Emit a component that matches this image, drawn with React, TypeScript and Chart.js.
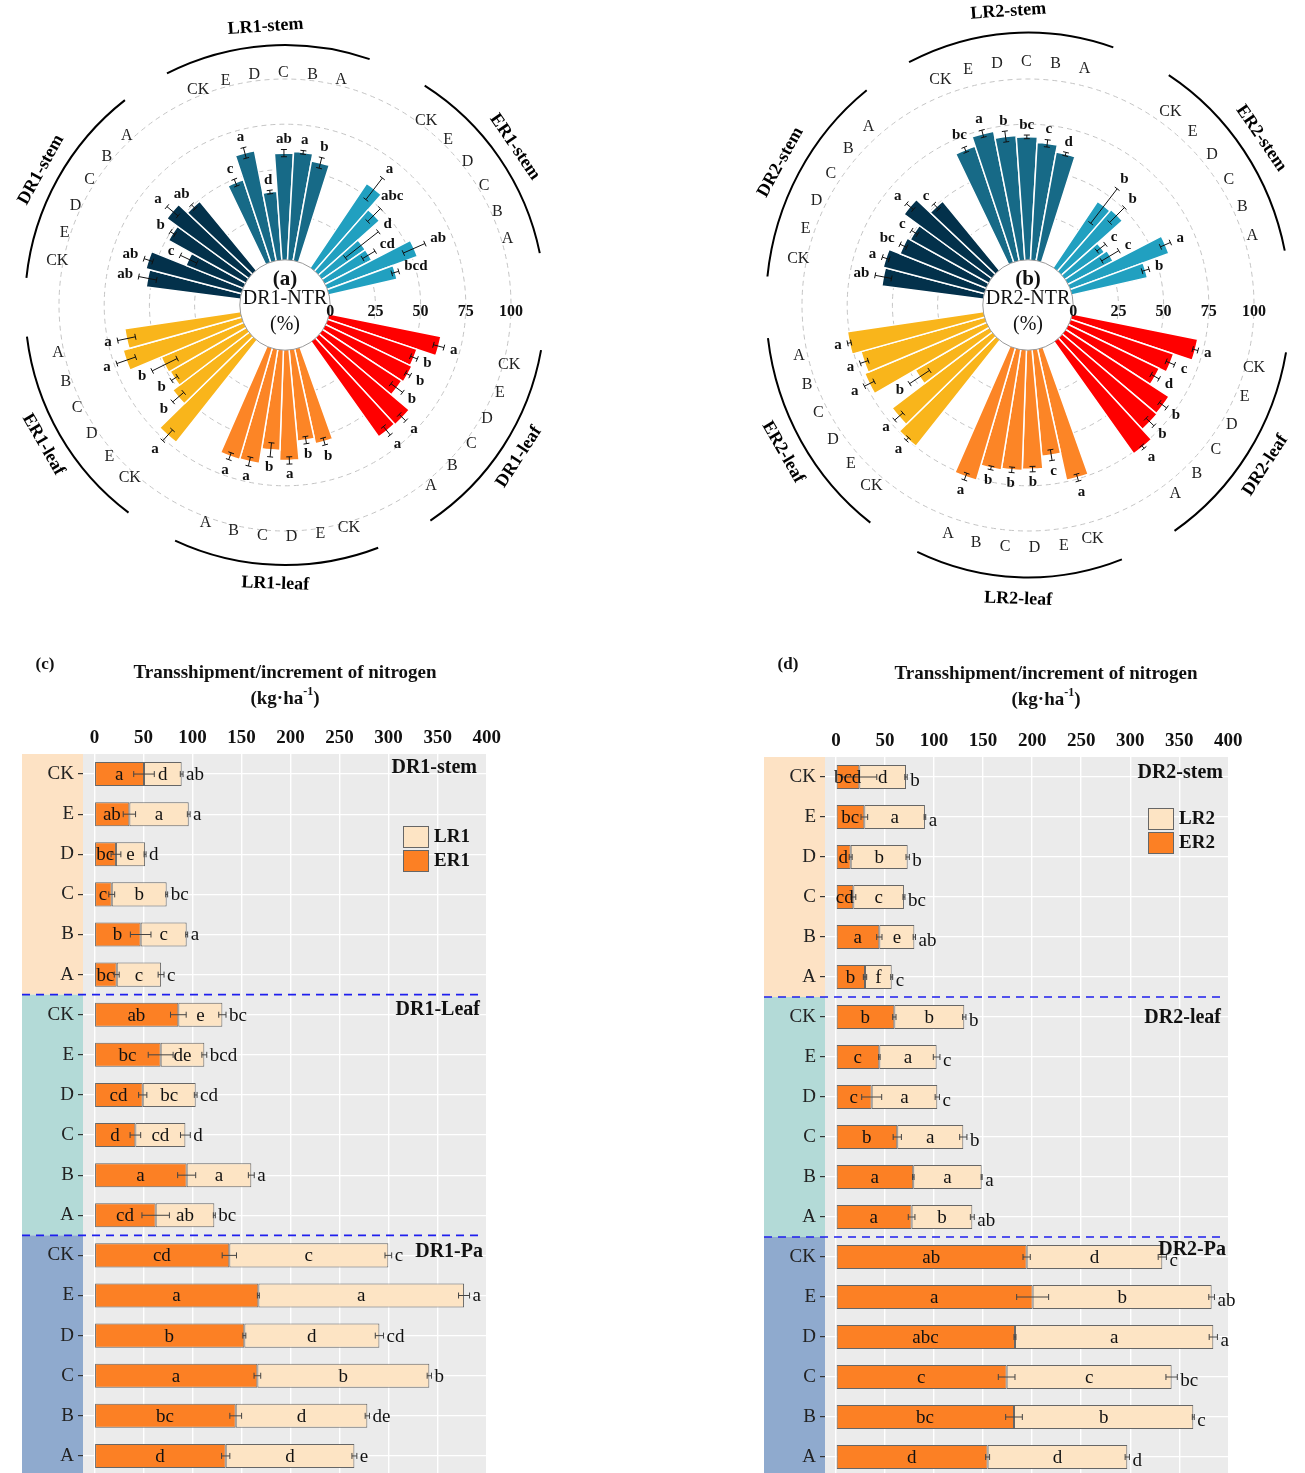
import React, { useEffect, useRef } from "react";
import { Chart, registerables } from "chart.js";

Chart.register(...registerables);

const SERIF = "'Liberation Serif', 'Times New Roman', serif";
const TREATMENTS = ["CK", "E", "D", "C", "B", "A"];

// ---------------- Panel (a): DR1-NTR (%) ----------------
const GROUPS_A = ["LR1-stem", "ER1-stem", "DR1-leaf", "LR1-leaf", "ER1-leaf", "DR1-stem"];
const NTR_A = [
  [48, 62, 38, 59, 60, 56],
  [56, 45, 29, 29, 53, 38.6],
  [63, 52, 53, 52, 65, 64.5],
  [53.5, 50.6, 61, 55.5, 63.8, 64],
  [72, 53, 48.4, 49.3, 68, 64.6],
  [52.4, 54.5, 34, 48.7, 56, 49.3],
];
const NTR_ERR_A = [
  [2, 3, 1, 2, 1, 3],
  [7.5, 5, 11.6, 4, 6.5, 2],
  [3, 2, 1.5, 4, 2.5, 3],
  [2, 2, 2, 3.9, 2.5, 2],
  [4, 4, 2, 7.7, 5.5, 5],
  [5, 2.5, 5, 1.5, 4, 1.5],
];
const NTR_SIG_A = [
  ["c", "a", "d", "ab", "a", "b"],
  ["a", "abc", "d", "cd", "ab", "bcd"],
  ["a", "b", "b", "b", "a", "a"],
  ["b", "b", "a", "b", "a", "a"],
  ["a", "b", "b", "b", "a", "a"],
  ["ab", "ab", "c", "b", "a", "ab"],
];

// ---------------- Panel (b): DR2-NTR (%) ----------------
const GROUPS_B = ["LR2-stem", "ER2-stem", "DR2-leaf", "LR2-leaf", "ER2-leaf", "DR2-stem"];
const NTR_B = [
  [67.6, 73, 69, 68, 65, 61],
  [44, 45, 26.4, 28, 58, 42.8],
  [70.8, 60, 55.7, 68, 68.5, 76],
  [74.3, 59, 65.8, 66.6, 67.4, 76],
  [74.7, 69.4, 47, 73, 70.9, 76],
  [56.5, 57.8, 51.3, 49.5, 60, 49.4],
];
const NTR_ERR_B = [
  [1.5, 2, 3, 1, 2, 1],
  [12, 5.8, 3, 5.5, 3, 2],
  [1.5, 2.5, 2.5, 2.5, 3, 1],
  [2, 3, 1.5, 1.5, 1, 2],
  [1, 3, 6.6, 3, 2.3, 1],
  [4.6, 2, 2, 2, 2.5, 2],
];
const NTR_SIG_B = [
  ["bc", "a", "b", "bc", "c", "d"],
  ["b", "b", "c", "c", "a", "b"],
  ["a", "c", "d", "b", "b", "a"],
  ["a", "c", "b", "b", "b", "a"],
  ["a", "a", "b", "a", "a", "a"],
  ["ab", "a", "bc", "c", "a", "c"],
];

const RING_TICKS = [0, 25, 50, 75, 100];
const GROUP_COLORS = ["#176a87", "#21a0c0", "#ff0000", "#fc8526", "#f9b51b", "#03314b"];

// angular layout (degrees)
const BAR_DEG = 7.2;
const GAP_DEG = [16.3, 24.3, 15.8, 14.8, 15.8, 13.8];
const START_DEG = -25.6;

// ---------------- Panel (c) ----------------
const ROW_GROUPS_C = ["DR1-stem", "DR1-Leaf", "DR1-Pa"];
const ER_C = [50.6, 35.7, 22.0, 17.7, 47.2, 22.8, 85.6, 67.6, 49.3, 41.8, 94.1, 62.5, 137.6, 167.2, 152.9, 166.2, 144.1, 133.9];
const TOTAL_C = [89.0, 96.2, 51.7, 73.7, 94.1, 68.0, 130.5, 112.1, 103.3, 92.8, 160.0, 122.3, 299.7, 376.9, 290.6, 341.5, 278.3, 265.1];
const ER_ERR_C = [10.5, 6.3, 5.0, 3.0, 10.5, 2.5, 8.0, 12.7, 4.2, 5.4, 9.2, 14.0, 7.3, 1.0, 1.5, 3.4, 6.0, 4.2];
const TOTAL_ERR_C = [1.4, 1.4, 1.0, 1.0, 1.0, 3.0, 3.7, 2.5, 1.4, 5.0, 3.0, 1.0, 3.4, 5.6, 4.2, 2.2, 2.2, 2.5];
const SIG_ER_C = ["a", "ab", "bc", "c", "b", "bc", "ab", "bc", "cd", "d", "a", "cd", "cd", "a", "b", "a", "bc", "d"];
const SIG_LR_C = ["d", "a", "e", "b", "c", "c", "e", "de", "bc", "cd", "a", "ab", "c", "a", "d", "b", "d", "d"];
const SIG_TOTAL_C = ["ab", "a", "d", "bc", "a", "c", "bc", "bcd", "cd", "d", "a", "bc", "c", "a", "cd", "b", "de", "e"];
const LEGEND_C = ["LR1", "ER1"];

// ---------------- Panel (d) ----------------
const ROW_GROUPS_D = ["DR2-stem", "DR2-leaf", "DR2-Pa"];
const ER_D = [23.8, 28.9, 15.0, 17.7, 44.2, 29.6, 59.5, 44.2, 36.4, 62.5, 78.8, 77.1, 194.4, 200.5, 182.5, 174.0, 181.5, 154.6];
const TOTAL_D = [71.4, 90.7, 73.1, 69.3, 79.9, 56.8, 130.8, 102.6, 103.3, 129.8, 148.5, 139.0, 332.7, 383.0, 384.7, 342.2, 364.3, 297.0];
const ER_ERR_D = [17.8, 3.4, 1.5, 2.5, 2.7, 1.7, 1.7, 0.8, 10.2, 4.2, 0.8, 3.4, 3.7, 16.3, 1.0, 8.5, 8.5, 2.0];
const TOTAL_ERR_D = [1.2, 0.8, 1.7, 1.0, 1.2, 1.0, 1.7, 3.4, 2.2, 3.7, 0.5, 2.0, 4.2, 2.9, 4.2, 5.8, 1.0, 2.2];
const SIG_ER_D = ["bcd", "bc", "d", "cd", "a", "b", "b", "c", "c", "b", "a", "a", "ab", "a", "abc", "c", "bc", "d"];
const SIG_LR_D = ["d", "a", "b", "c", "e", "f", "b", "a", "a", "a", "a", "b", "d", "b", "a", "c", "b", "d"];
const SIG_TOTAL_D = ["b", "a", "b", "bc", "ab", "c", "b", "c", "c", "b", "a", "ab", "c", "ab", "a", "bc", "c", "d"];
const LEGEND_D = ["LR2", "ER2"];

const ROW_LABELS = [...TREATMENTS, ...TREATMENTS, ...TREATMENTS];
const X_TICKS = [0, 50, 100, 150, 200, 250, 300, 350, 400];
const BAND_COLORS = ["#fde2c4", "#b3dad7", "#8faace"];
const ER_COLOR = "#fc8024";
const LR_COLOR = "#fde4c4";

// ====================== Polar panel ======================
function PolarPanel(props: any) {
  const ref = useRef<HTMLCanvasElement>(null);
  useEffect(() => {
    const p = props;
    const vals: number[] = [];
    const cols: string[] = [];
    const angs: number[] = [];
    const map: any[] = [];
    for (let g = 0; g < 6; g++) {
      for (let k = 0; k < 6; k++) {
        vals.push(p.values[g][k]);
        cols.push(GROUP_COLORS[g]);
        angs.push(BAR_DEG);
        map.push({ g, k });
      }
      vals.push(0);
      cols.push("rgba(0,0,0,0)");
      angs.push(GAP_DEG[g]);
      map.push(null);
    }
    const R = 226;
    const decor = {
      id: "polarDecor",
      afterDatasetsDraw(chart: any) {
        const ctx = chart.ctx;
        const sc = chart.scales.r;
        const cx = sc.xCenter;
        const cy = sc.yCenter;
        const rv = (v: number) => sc.getDistanceFromCenterForValue(v);
        const els = chart.getDatasetMeta(0).data;
        ctx.save();
        // hole
        ctx.beginPath();
        ctx.arc(cx, cy, rv(0), 0, Math.PI * 2);
        ctx.fillStyle = "#fff";
        ctx.fill();
        ctx.lineWidth = 1;
        ctx.strokeStyle = "#9a9a9a";
        ctx.stroke();
        // center text
        ctx.fillStyle = "#111";
        ctx.textAlign = "center";
        ctx.textBaseline = "middle";
        ctx.font = `bold 21px ${SERIF}`;
        ctx.fillText(p.tag, cx, cy - 25);
        ctx.font = `20px ${SERIF}`;
        ctx.fillText(p.title, cx, cy - 6);
        ctx.fillText("(%)", cx, cy + 20);
        // tick labels
        ctx.font = `bold 16px ${SERIF}`;
        RING_TICKS.forEach((v) => ctx.fillText(String(v), cx + rv(v), cy + 7));
        // bars decorations
        map.forEach((m, i) => {
          if (!m) return;
          const el = els[i];
          const a = (el.startAngle + el.endAngle) / 2;
          const ca = Math.cos(a);
          const sa = Math.sin(a);
          const v = p.values[m.g][m.k];
          const e = p.errs[m.g][m.k];
          const r0 = rv(v - e);
          const r1 = rv(v + e);
          ctx.strokeStyle = "#111";
          ctx.lineWidth = 1;
          ctx.beginPath();
          ctx.moveTo(cx + r0 * ca, cy + r0 * sa);
          ctx.lineTo(cx + r1 * ca, cy + r1 * sa);
          [r0, r1].forEach((r) => {
            const px = cx + r * ca;
            const py = cy + r * sa;
            ctx.moveTo(px + 3 * sa, py - 3 * ca);
            ctx.lineTo(px - 3 * sa, py + 3 * ca);
          });
          ctx.stroke();
          ctx.font = `bold 15px ${SERIF}`;
          ctx.fillStyle = "#111";
          const txt = p.sigs[m.g][m.k];
          const w = ctx.measureText(txt).width;
          const rl = r1 + 4 + Math.abs(ca) * (w / 2 + 1) + Math.abs(sa) * 6;
          ctx.fillText(txt, cx + rl * ca, cy + rl * sa);
          const rr = rv(100) + p.ringOffset;
          ctx.font = `16px ${SERIF}`;
          ctx.fillStyle = "#222";
          ctx.fillText(TREATMENTS[m.k], cx + rr * ca, cy + rr * sa * p.ringStretch);
        });
        // group arcs and labels
        for (let g = 0; g < 6; g++) {
          const e0 = els[g * 7];
          const e5 = els[g * 7 + 5];
          const am = ((e0.startAngle + e0.endAngle) / 2 + (e5.startAngle + e5.endAngle) / 2) / 2;
          const half = (23 * Math.PI) / 180;
          ctx.beginPath();
          ctx.ellipse(cx, cy, p.arcR, p.arcR * p.ringStretch, 0, am - half, am + half);
          ctx.strokeStyle = "#000";
          ctx.lineWidth = 2;
          ctx.stroke();
          let th = (am * 180) / Math.PI + 90;
          th = ((th % 360) + 360) % 360;
          let rot = th;
          if (th > 90 && th < 270) rot = th - 180;
          else if (th >= 270) rot = th - 360;
          ctx.save();
          ctx.translate(cx + p.labelR * Math.cos(am), cy + p.labelR * p.ringStretch * Math.sin(am));
          ctx.rotate((rot * Math.PI) / 180);
          ctx.font = `bold 18px ${SERIF}`;
          ctx.fillStyle = "#000";
          ctx.fillText(p.groups[g], 0, 0);
          ctx.restore();
        }
        ctx.restore();
      },
    };
    const chart = new Chart(ref.current as any, {
      type: "polarArea",
      data: {
        labels: vals.map((_, i) => String(i)),
        datasets: [
          {
            data: vals,
            backgroundColor: cols,
            borderColor: "#fff",
            borderWidth: 1.5,
            angle: angs,
          } as any,
        ],
      },
      options: {
        responsive: false,
        animation: false,
        devicePixelRatio: 1,
        layout: {
          padding: {
            left: p.cx - R,
            right: p.width - p.cx - R,
            top: p.cy - R,
            bottom: p.height - p.cy - R,
          },
        },
        plugins: { legend: { display: false }, tooltip: { enabled: false } },
        scales: {
          r: {
            min: -25,
            max: 100,
            startAngle: START_DEG,
            beginAtZero: false,
            ticks: { display: false, stepSize: 25 },
            grid: {
              circular: true,
              lineWidth: 1,
              color: (c: any) => (c.tick && c.tick.value > 0 ? "#c4c4c4" : "rgba(0,0,0,0)"),
            },
            border: { dash: [5, 4] },
            angleLines: { display: false },
            pointLabels: { display: false },
          } as any,
        },
      } as any,
      plugins: [decor],
    });
    return () => chart.destroy();
  }, []);
  return (
    <canvas
      ref={ref}
      width={props.width}
      height={props.height}
      style={{ position: "absolute", left: props.left, top: props.top }}
    />
  );
}

// ====================== Bar panel ======================
function BarPanel(props: any) {
  const ref = useRef<HTMLCanvasElement>(null);
  useEffect(() => {
    const p = props;
    const lr = p.total.map((t: number, i: number) => t - p.er[i]);
    const decor = {
      id: "barDecor",
      beforeDraw(chart: any) {
        const { ctx, chartArea: ca } = chart;
        const ys = chart.scales.y;
        const sepY = (i: number) => (ys.getPixelForValue(i) + ys.getPixelForValue(i + 1)) / 2;
        const bounds = [ca.top, sepY(5), sepY(11), ca.bottom];
        ctx.save();
        ctx.fillStyle = "#ebebeb";
        ctx.fillRect(ca.left, ca.top, ca.right - ca.left, ca.bottom - ca.top);
        for (let g = 0; g < 3; g++) {
          ctx.fillStyle = BAND_COLORS[g];
          ctx.fillRect(p.bandLeft, bounds[g], ca.left - p.bandLeft, bounds[g + 1] - bounds[g]);
        }
        ctx.restore();
      },
      afterDatasetsDraw(chart: any) {
        const { ctx } = chart;
        const xs = chart.scales.x;
        const ys = chart.scales.y;
        const X = (v: number) => xs.getPixelForValue(v);
        const sepY = (i: number) => (ys.getPixelForValue(i) + ys.getPixelForValue(i + 1)) / 2;
        ctx.save();
        const hbar = (x0: number, x1: number, y: number) => {
          ctx.beginPath();
          ctx.moveTo(x0, y);
          ctx.lineTo(x1, y);
          ctx.moveTo(x0, y - 3);
          ctx.lineTo(x0, y + 3);
          ctx.moveTo(x1, y - 3);
          ctx.lineTo(x1, y + 3);
          ctx.stroke();
        };
        for (let i = 0; i < 18; i++) {
          const y = ys.getPixelForValue(i);
          const er = p.er[i];
          const tot = p.total[i];
          ctx.strokeStyle = "#444";
          ctx.lineWidth = 1;
          hbar(X(er - p.erErr[i]), X(er + p.erErr[i]), y);
          hbar(X(tot - p.totErr[i]), X(tot + p.totErr[i]), y);
          ctx.font = `19px ${SERIF}`;
          ctx.fillStyle = "#111";
          ctx.textBaseline = "middle";
          ctx.textAlign = "center";
          ctx.fillText(p.sigEr[i], (X(0) + X(er)) / 2, y + 1);
          ctx.fillText(p.sigLr[i], (X(er) + X(tot)) / 2, y + 1);
          ctx.textAlign = "left";
          ctx.fillText(p.sigTot[i], X(tot + p.totErr[i]) + 3, y + p.totDy);
        }
        // separators
        ctx.setLineDash([8, 6]);
        ctx.strokeStyle = "#1f1fee";
        ctx.lineWidth = 1.6;
        [5, 11].forEach((i) => {
          const y = sepY(i);
          ctx.beginPath();
          ctx.moveTo(p.bandLeft, y);
          ctx.lineTo(p.sepRight, y);
          ctx.stroke();
        });
        ctx.setLineDash([]);
        // group labels
        ctx.font = `bold 20px ${SERIF}`;
        ctx.fillStyle = "#111";
        ctx.textAlign = "right";
        ctx.textBaseline = "middle";
        p.groups.forEach((lbl: string, g: number) => ctx.fillText(lbl, p.groupPos[g][0], p.groupPos[g][1]));
        // legend
        const lg = p.legendPos;
        const boxCols = [LR_COLOR, ER_COLOR];
        for (let j = 0; j < 2; j++) {
          const by = lg[1] + j * 24;
          ctx.fillStyle = boxCols[j];
          ctx.fillRect(lg[0], by, 25, 21);
          ctx.strokeStyle = "#666";
          ctx.lineWidth = 1;
          ctx.strokeRect(lg[0] + 0.5, by + 0.5, 25, 21);
          ctx.fillStyle = "#111";
          ctx.textAlign = "left";
          ctx.font = `bold 19px ${SERIF}`;
          ctx.fillText(p.legend[j], lg[0] + 31, by + 11.5);
        }
        ctx.restore();
      },
      afterDraw(chart: any) {
        const { ctx } = chart;
        ctx.save();
        ctx.fillStyle = "#111";
        ctx.textBaseline = "middle";
        ctx.textAlign = "center";
        ctx.font = `bold 17px ${SERIF}`;
        ctx.fillText(p.tag, p.tagPos[0], p.tagPos[1]);
        ctx.font = `bold 19px ${SERIF}`;
        ctx.fillText("Transshipment/increment of nitrogen", p.titleX, p.titleY);
        const a = "(kg\u00b7ha";
        const c = ")";
        const wa = ctx.measureText(a).width;
        const wc = ctx.measureText(c).width;
        ctx.font = `bold 12px ${SERIF}`;
        const ws = ctx.measureText("-1").width;
        let x = p.titleX - (wa + ws + wc) / 2;
        ctx.textAlign = "left";
        ctx.font = `bold 19px ${SERIF}`;
        ctx.fillText(a, x, p.unitsY);
        x += wa;
        ctx.font = `bold 12px ${SERIF}`;
        ctx.fillText("-1", x, p.unitsY - 7);
        x += ws;
        ctx.font = `bold 19px ${SERIF}`;
        ctx.fillText(c, x, p.unitsY);
        ctx.restore();
      },
    };
    const chart = new Chart(ref.current as any, {
      type: "bar",
      data: {
        labels: ROW_LABELS,
        datasets: [
          {
            label: p.legend[1],
            data: p.er,
            backgroundColor: ER_COLOR,
            borderColor: "#666",
            borderWidth: 1,
            borderSkipped: false,
            barPercentage: 0.6,
            categoryPercentage: 1,
          },
          {
            label: p.legend[0],
            data: lr,
            backgroundColor: LR_COLOR,
            borderColor: "#666",
            borderWidth: 1,
            borderSkipped: false,
            barPercentage: 0.6,
            categoryPercentage: 1,
          },
        ],
      },
      options: {
        indexAxis: "y",
        responsive: false,
        animation: false,
        devicePixelRatio: 1,
        layout: { padding: p.padding },
        plugins: { legend: { display: false }, tooltip: { enabled: false } },
        scales: {
          x: {
            type: "linear",
            position: "top",
            stacked: true,
            min: p.xMin,
            max: p.xMax,
            afterBuildTicks: (s: any) => {
              s.ticks = X_TICKS.map((v) => ({ value: v }));
            },
            afterFit: (s: any) => {
              s.height = 30;
              s.paddingLeft = 0;
              s.paddingRight = 0;
            },
            grid: { color: "#fff", lineWidth: 1.4, drawTicks: false },
            border: { display: false },
            ticks: { font: { family: SERIF, size: 19, weight: "bold" }, color: "#111", padding: 5 },
          },
          y: {
            type: "category",
            stacked: true,
            offset: true,
            afterFit: (s: any) => {
              s.width = 61;
              s.paddingTop = 0;
              s.paddingBottom = 0;
            },
            grid: { color: "#fff", lineWidth: 1.2, offset: false, tickColor: "#333", tickLength: 5 },
            border: { display: false },
            ticks: { font: { family: SERIF, size: 19 }, color: "#222", padding: 4, autoSkip: false },
          },
        },
      } as any,
      plugins: [decor],
    });
    return () => chart.destroy();
  }, []);
  return (
    <canvas
      ref={ref}
      width={props.width}
      height={props.height}
      style={{ position: "absolute", left: props.left, top: props.top }}
    />
  );
}

export default function App() {
  return (
    <div
      style={{
        position: "absolute",
        left: 0,
        top: 0,
        width: 1305,
        height: 1473,
        overflow: "hidden",
        background: "#fff",
      }}
    >
      <PolarPanel
        left={0}
        top={0}
        width={600}
        height={620}
        cx={285}
        cy={305}
        tag="(a)"
        title="DR1-NTR"
        groups={GROUPS_A}
        values={NTR_A}
        errs={NTR_ERR_A}
        sigs={NTR_SIG_A}
        ringOffset={6}
        ringStretch={1}
        arcR={260}
        labelR={279}
      />
      <PolarPanel
        left={730}
        top={0}
        width={575}
        height={620}
        cx={298}
        cy={305}
        tag="(b)"
        title="DR2-NTR"
        groups={GROUPS_B}
        values={NTR_B}
        errs={NTR_ERR_B}
        sigs={NTR_SIG_B}
        ringOffset={8}
        ringStretch={1.04}
        arcR={262}
        labelR={283}
      />
      <BarPanel
        left={0}
        top={640}
        width={510}
        height={836}
        padding={{ left: 22, right: 23, top: 84, bottom: 0 }}
        xMin={-11.6}
        xMax={400.3}
        er={ER_C}
        total={TOTAL_C}
        erErr={ER_ERR_C}
        totErr={TOTAL_ERR_C}
        sigEr={SIG_ER_C}
        sigLr={SIG_LR_C}
        sigTot={SIG_TOTAL_C}
        groups={ROW_GROUPS_C}
        groupPos={[[477, 128], [480, 370], [483, 612]]}
        legend={LEGEND_C}
        legendPos={[403, 186]}
        tag="(c)"
        tagPos={[45, 25]}
        titleX={285}
        titleY={33}
        unitsY={59}
        bandLeft={22}
        sepRight={483}
        totDy={1}
      />
      <BarPanel
        left={750}
        top={640}
        width={520}
        height={840}
        padding={{ left: 14, right: 41, top: 87, bottom: 3 }}
        xMin={-11.2}
        xMax={400.7}
        er={ER_D}
        total={TOTAL_D}
        erErr={ER_ERR_D}
        totErr={TOTAL_ERR_D}
        sigEr={SIG_ER_D}
        sigLr={SIG_LR_D}
        sigTot={SIG_TOTAL_D}
        groups={ROW_GROUPS_D}
        groupPos={[[473, 133], [471, 378], [476, 610]]}
        legend={LEGEND_D}
        legendPos={[398, 168]}
        tag="(d)"
        tagPos={[38, 25]}
        titleX={296}
        titleY={34}
        unitsY={60}
        bandLeft={14}
        sepRight={475}
        totDy={4}
      />
    </div>
  );
}
